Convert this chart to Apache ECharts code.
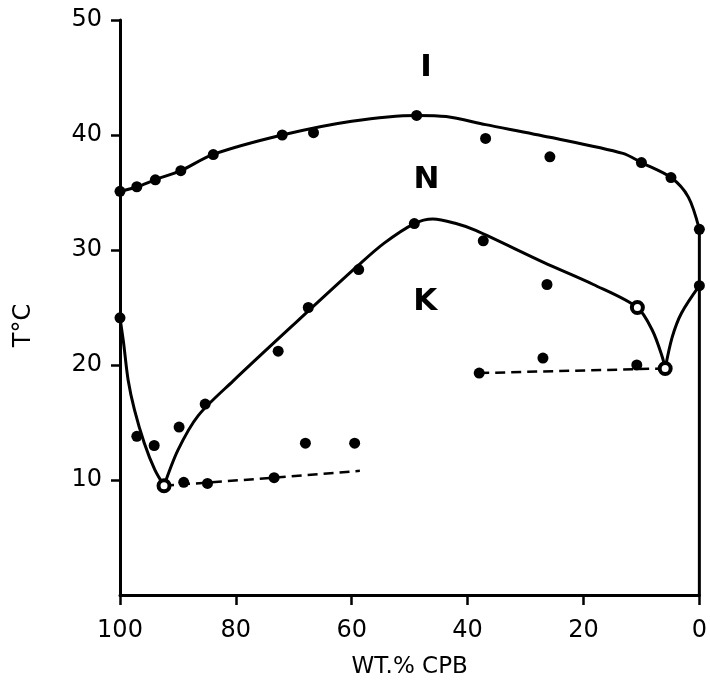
<!DOCTYPE html>
<html>
<head>
<meta charset="utf-8">
<script src="https://cdn.jsdelivr.net/npm/echarts@6/dist/echarts.min.js"></script>
<style>
  html, body { margin: 0; padding: 0; background: #fff; }
  #chart { width: 710px; height: 687px; }
</style>
</head>
<body>
<div id="chart"></div>
<script>
// measured points [wt.% CPB, T °C]
const clearingPoints = [[100,35.1],[97.1,35.5],[93.9,36.1],[89.5,36.9],[83.9,38.3],[72,40.0],[66.6,40.2],[48.8,41.7],[36.9,39.7],[25.8,38.1],[10,37.6],[4.9,36.3],[0,31.8]];
const meltPoints = [[100,24.1],[97.1,13.8],[94.1,13.0],[89.8,14.6],[85.3,16.6],[72.7,21.2],[67.5,25.0],[58.8,28.3],[49.2,32.3],[37.3,30.8],[26.3,27.0],[0,26.9]];
const eutecticPoints = [[89,9.8],[84.9,9.7],[73.4,10.2],[38,19.3],[10.8,20.0]];
const looseDots = [[68,13.2],[59.5,13.2],[27,20.6]];
const openPoints = [[92.4,9.5],[5.9,19.7],[10.7,25.0]];

// curves as drawn by hand
const clearingCurve = [[100,35.1],[97,35.5],[94,36.1],[89.5,36.9],[84,38.3],[72,40.0],[60,41.2],[48.8,41.7],[43.7,41.6],[36.9,40.9],[25.8,39.8],[13.2,38.4],[10,37.6],[4.9,36.3],[1.9,34.6],[0,31.8]];
const meltLeft = [[100,24.1],[99.4,22],[98.6,18.7],[97.5,16.1],[95.8,13.2],[94,10.9],[92.4,9.5]];
const meltMiddle = [[92.4,9.5],[90,12.6],[86.5,15.6],[80.5,18.6],[69.2,23.9],[58.8,28.7],[54.4,30.6],[49.2,32.3],[46,32.7],[42,32.3],[38.6,31.7],[26.8,28.9],[18.3,27.0],[10.7,25.0],[8.1,23.0],[6.4,20.7],[5.9,19.7]];
const meltRight = [[5.9,19.7],[4.7,22.4],[3.1,24.5],[0,26.9]];
const eutecticLeft = [[92.4,9.5],[73.4,10.2],[58.6,10.8]];
const eutecticRight = [[38,19.3],[5.9,19.7]];
const rightEdge = [[0,0],[0,31.8]];

const phaseLabels = [['I',47.2,45.8],['N',47.1,36.1],['K',47.3,25.5]];

const xTicks = [0,20,40,60,80,100];
const yTicks = [10,20,30,40,50];

const chart = echarts.init(document.getElementById('chart'));

const ink = '#000';
const font = 'DejaVu Sans';

function curve(data, dashed) {
  return {
    type: 'line', data, smooth: dashed ? false : 0.3, symbol: 'none', silent: true,
    lineStyle: { color: ink, width: dashed ? 2.5 : 3, type: dashed ? [10, 6] : 'solid' }
  };
}

function dots(data, open) {
  return {
    type: 'scatter', data, symbolSize: 11, silent: true, z: 5,
    itemStyle: open ? { color: '#fff', borderColor: ink, borderWidth: 4, opacity: 1 } : { color: ink, opacity: 1 }
  };
}

chart.setOption({
  animation: false,
  backgroundColor: '#fff',
  grid: { left: 120, right: 4, top: 20, bottom: 92 },
  xAxis: {
    type: 'value', inverse: true, min: 0, max: 100, interval: 20,
    name: 'WT.% CPB', nameLocation: 'middle', nameGap: 61,
    nameTextStyle: { fontFamily: font, fontSize: 23, color: ink },
    axisLine: { lineStyle: { color: ink, width: 3 } },
    axisTick: { length: 10, lineStyle: { color: ink, width: 2.5 }, customValues: xTicks },
    axisLabel: { fontFamily: font, fontSize: 24, color: ink, margin: 24, customValues: xTicks },
    splitLine: { show: false }
  },
  yAxis: {
    type: 'value', min: 0, max: 50, interval: 10, position: 'left',
    name: 'T°C', nameLocation: 'middle', nameGap: 84, nameRotate: 90,
    nameTextStyle: { fontFamily: font, fontSize: 24, color: ink, padding: [0, 36, 0, 0] },
    axisLine: { onZero: false, lineStyle: { color: ink, width: 3 } },
    axisTick: { length: 9, lineStyle: { color: ink, width: 2.5 }, customValues: yTicks },
    axisLabel: { fontFamily: font, fontSize: 24, color: ink, margin: 18, customValues: yTicks,
      formatter: v => v === 0 ? '' : v },
    splitLine: { show: false }
  },
  series: [
    curve(clearingCurve),
    curve(meltLeft),
    curve(meltMiddle),
    curve(meltRight),
    curve(eutecticLeft, true),
    curve(eutecticRight, true),
    curve(rightEdge),
    dots(clearingPoints),
    dots(meltPoints),
    dots(eutecticPoints),
    dots(looseDots),
    dots(openPoints, true),
    {
      type: 'scatter', silent: true, symbolSize: 0,
      itemStyle: { opacity: 1 },
      data: phaseLabels.map(d => ({ value: [d[1], d[2]], name: d[0] })),
      label: {
        show: true, position: 'inside', formatter: p => p.name, color: ink,
        fontFamily: font, fontSize: 31, fontWeight: 'bold'
      }
    }
  ]
});
</script>
</body>
</html>
